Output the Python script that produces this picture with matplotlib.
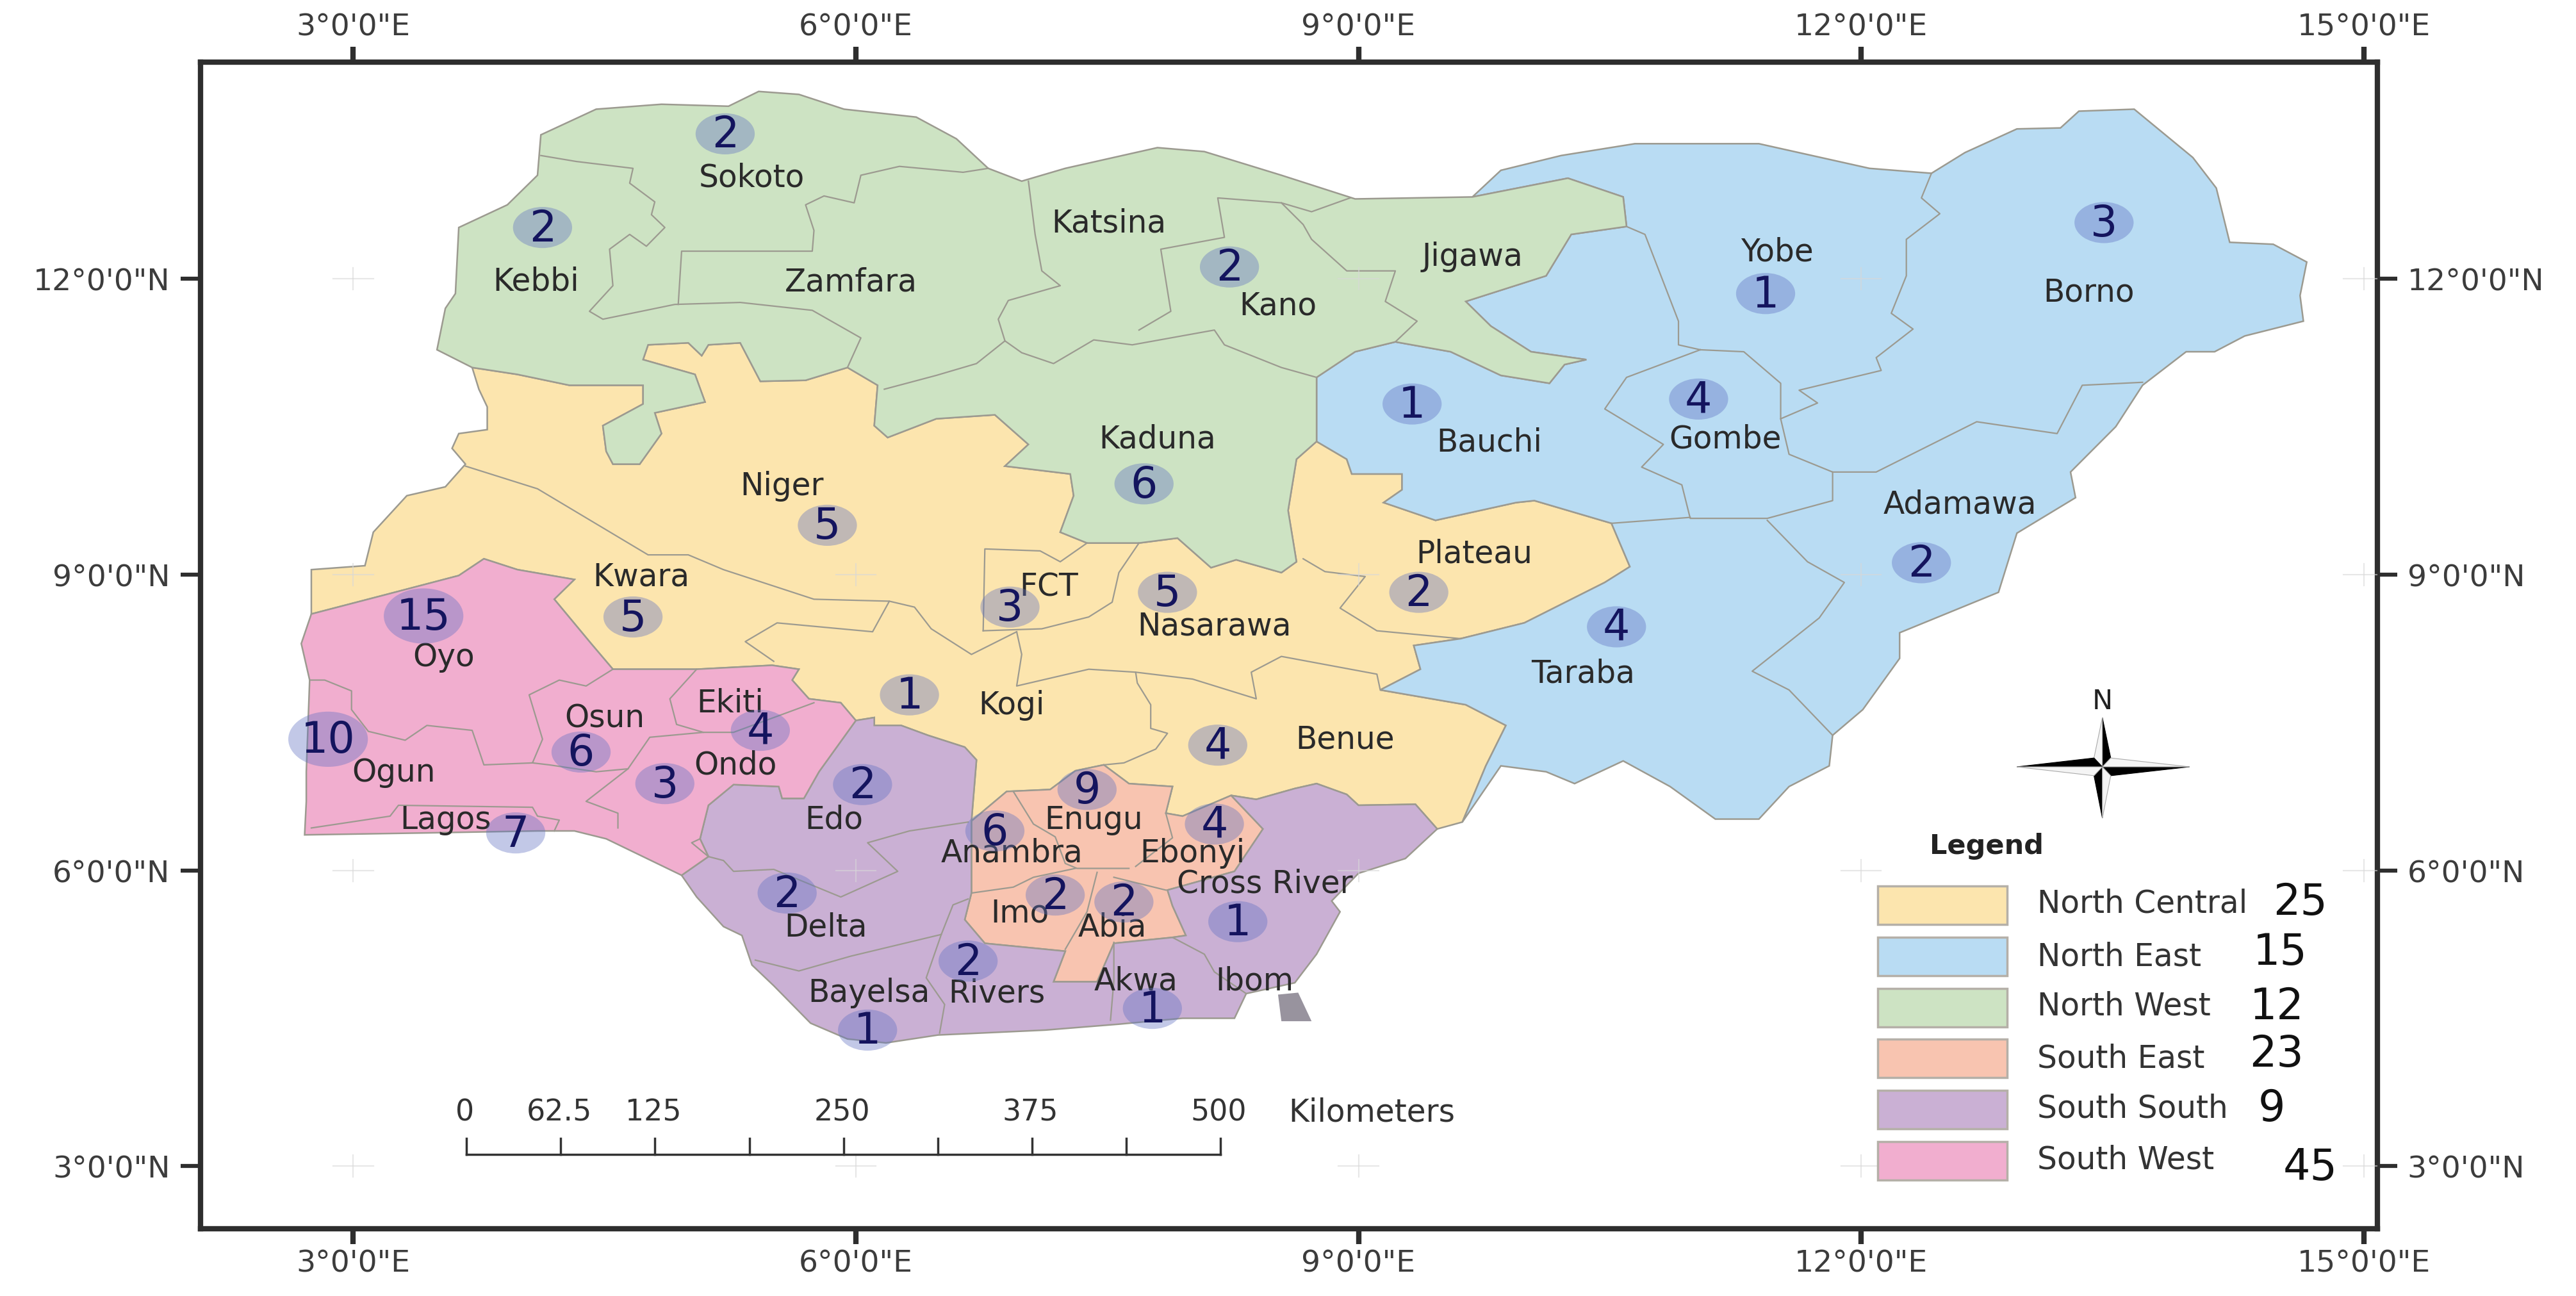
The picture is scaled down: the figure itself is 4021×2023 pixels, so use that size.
import matplotlib
matplotlib.use("Agg")
import matplotlib.pyplot as plt
from matplotlib.patches import Ellipse, Polygon, Rectangle

# Zone borders, (lon, lat) degrees
nw_outer = [(3.71, 11.10), (3.50, 11.28), (3.55, 11.70), (3.61, 11.85), (3.63, 12.52), (3.92, 12.75),
            (4.10, 13.05), (4.12, 13.46), (4.45, 13.72), (4.84, 13.77), (5.24, 13.75), (5.42, 13.90),
            (5.66, 13.87), (5.93, 13.72), (6.36, 13.64), (6.60, 13.42), (6.79, 13.12), (6.99, 12.99),
            (7.25, 13.12), (7.80, 13.33), (8.08, 13.29), (8.54, 13.05), (8.98, 12.81), (9.68, 12.83)]
nw_ne = [(9.68, 12.83), (10.25, 13.02), (10.58, 12.83), (10.60, 12.53), (10.27, 12.45), (10.12, 12.03),
         (9.64, 11.77), (9.79, 11.52), (10.03, 11.26), (10.36, 11.18), (10.23, 11.13), (10.14, 10.94),
         (9.85, 11.02), (9.55, 11.26), (9.22, 11.36), (8.98, 11.26), (8.75, 11.00), (8.75, 10.68), (8.75, 10.35)]
ne_outer = [(9.68, 12.83), (9.85, 13.10), (10.21, 13.25), (10.65, 13.37), (11.39, 13.37), (12.05, 13.12),
            (12.42, 13.07), (12.62, 13.28), (12.93, 13.52), (13.19, 13.53), (13.30, 13.70), (13.63, 13.72),
            (13.98, 13.23), (14.12, 12.92), (14.20, 12.37), (14.46, 12.35), (14.66, 12.17), (14.62, 11.83),
            (14.64, 11.57), (14.29, 11.42), (14.11, 11.26), (13.94, 11.26), (13.68, 10.92), (13.52, 10.50),
            (13.25, 10.04), (13.28, 9.78), (12.93, 9.42), (12.82, 8.82), (12.23, 8.41), (12.23, 8.15),
            (12.01, 7.63), (11.83, 7.37), (11.81, 7.06), (11.57, 6.85), (11.39, 6.52), (11.13, 6.52),
            (10.86, 6.85), (10.58, 7.11), (10.29, 6.88), (10.12, 7.00), (9.85, 7.06), (9.62, 6.49)]
nc_ne = [(8.75, 10.35), (8.93, 10.17), (8.96, 10.02), (9.26, 10.02), (9.26, 9.86), (9.15, 9.73), (9.46, 9.55),
         (9.94, 9.73), (10.05, 9.75), (10.51, 9.52), (10.62, 9.08), (10.47, 8.92), (9.99, 8.51), (9.61, 8.35),
         (9.33, 8.28), (9.37, 8.04), (9.13, 7.83), (9.64, 7.68), (9.88, 7.47), (9.76, 7.06), (9.62, 6.49)]
nw_nc = [(3.71, 11.10), (3.98, 11.03), (4.29, 10.92), (4.73, 10.92), (4.73, 10.73), (4.49, 10.51), (4.51, 10.25),
         (4.55, 10.12), (4.71, 10.12), (4.84, 10.43), (4.80, 10.64), (5.10, 10.75), (5.04, 11.03), (4.73, 11.18),
         (4.76, 11.33), (5.00, 11.35), (5.08, 11.22), (5.12, 11.33), (5.31, 11.35), (5.43, 10.96), (5.70, 10.97),
         (5.95, 11.10), (6.13, 10.92), (6.11, 10.51), (6.19, 10.39), (6.48, 10.58), (6.83, 10.62), (7.03, 10.32),
         (6.89, 10.10), (7.28, 10.02), (7.30, 9.80), (7.22, 9.43), (7.38, 9.32), (7.69, 9.32), (7.92, 9.37),
         (8.12, 9.07), (8.27, 9.15), (8.54, 9.02), (8.63, 9.13), (8.58, 9.65), (8.63, 10.17), (8.75, 10.35)]
nc_west = [(2.75, 8.60), (2.75, 9.05), (3.07, 9.09), (3.12, 9.43), (3.32, 9.80), (3.55, 9.89), (3.67, 10.12),
           (3.59, 10.28), (3.63, 10.43), (3.80, 10.47), (3.80, 10.70), (3.75, 10.88), (3.71, 11.10)]
sw_nc = [(2.75, 8.60), (3.18, 8.79), (3.63, 8.99), (3.78, 9.16), (3.98, 9.05), (4.32, 8.95), (4.20, 8.75),
         (4.42, 8.30), (4.55, 8.04), (5.05, 8.04), (5.50, 8.08), (5.66, 8.04), (5.62, 7.93), (5.72, 7.74),
         (5.91, 7.70), (6.00, 7.52)]
ss_nc = [(6.00, 7.52), (6.11, 7.55), (6.11, 7.47), (6.27, 7.47), (6.43, 7.37), (6.65, 7.25), (6.72, 7.12), (6.69, 6.50)]
se_nc = [(6.69, 6.50), (6.90, 6.80), (7.16, 6.82), (7.31, 7.01), (7.48, 7.07), (7.63, 6.88), (7.89, 6.85),
         (7.85, 6.58), (7.95, 6.55), (8.24, 6.76)]
ss_nc_east = [(8.24, 6.76), (8.39, 6.72), (8.62, 6.83), (8.75, 6.88), (8.93, 6.77), (9.00, 6.66), (9.34, 6.67), (9.47, 6.42)]
coast_east = [(9.47, 6.42), (9.28, 6.12), (9.00, 5.97), (8.84, 5.69), (8.89, 5.58), (8.75, 5.15), (8.62, 4.86),
              (8.33, 4.75), (8.26, 4.50), (7.95, 4.50), (7.57, 4.44), (7.13, 4.38), (6.49, 4.33), (6.18, 4.25),
              (5.95, 4.29), (5.73, 4.45), (5.51, 4.83), (5.38, 5.04), (5.32, 5.34), (5.21, 5.43), (5.05, 5.73), (4.96, 5.95)]
coast_west = [(4.96, 5.95), (4.51, 6.32), (4.32, 6.40), (4.10, 6.40), (3.44, 6.38), (2.71, 6.36), (2.72, 6.70),
              (2.72, 7.00), (2.74, 7.93), (2.69, 8.30), (2.75, 8.60)]
ss_sw = [(6.00, 7.52), (5.78, 7.00), (5.69, 6.73), (5.56, 6.73), (5.54, 6.85), (5.27, 6.87), (5.12, 6.66),
         (5.07, 6.32), (5.12, 6.14), (4.96, 5.95)]
se_ss = [(6.69, 6.50), (6.69, 5.77), (6.65, 5.50), (6.77, 5.26), (7.25, 5.18), (7.18, 4.87), (7.44, 4.87), (7.54, 5.26),
         (7.89, 5.32), (7.97, 5.34), (7.89, 5.64), (7.86, 5.80), (8.26, 5.99), (8.43, 6.42), (8.24, 6.76)]

# State borders inside the zones
state_borders = [
    [(4.12, 13.25), (4.33, 13.19), (4.67, 13.12), (4.65, 12.97), (4.80, 12.78), (4.78, 12.65), (4.86, 12.52),
     (4.75, 12.33), (4.65, 12.45), (4.53, 12.30), (4.55, 11.93), (4.41, 11.67), (4.49, 11.59), (4.92, 11.74),
     (5.31, 11.76), (5.74, 11.68), (6.03, 11.40), (5.95, 11.10)],
    [(4.94, 11.74), (4.96, 12.28), (5.74, 12.28), (5.75, 12.49), (5.70, 12.75), (5.81, 12.84), (5.99, 12.77),
     (6.03, 13.05), (6.26, 13.14), (6.64, 13.08), (6.79, 13.12)],
    [(7.03, 12.99), (7.07, 12.45), (7.11, 12.08), (7.22, 11.93), (6.91, 11.78), (6.85, 11.59), (6.89, 11.37),
     (6.72, 11.14), (6.48, 11.02), (6.17, 10.88)],
    [(6.89, 11.37), (6.99, 11.25), (7.18, 11.14), (7.42, 11.38), (7.65, 11.33), (8.14, 11.48), (8.20, 11.33),
     (8.54, 11.10), (8.75, 11.00)],
    [(7.69, 11.48), (7.88, 11.67), (7.82, 12.30), (8.20, 12.42), (8.16, 12.82), (8.54, 12.77), (8.72, 12.68), (8.95, 12.82)],
    [(8.54, 12.77), (8.67, 12.55), (8.72, 12.40), (8.93, 12.08), (9.22, 12.08), (9.16, 11.77), (9.35, 11.57), (9.22, 11.36)],
    [(12.42, 13.07), (12.36, 12.82), (12.47, 12.66), (12.27, 12.40), (12.27, 12.03), (12.18, 11.65), (12.31, 11.49),
     (12.09, 11.20), (12.12, 11.07), (11.63, 10.87), (11.74, 10.74), (11.52, 10.58)],
    [(10.60, 12.53), (10.71, 12.45), (10.91, 11.57), (10.91, 11.33), (11.04, 11.28)],
    [(11.04, 11.28), (11.30, 11.26), (11.52, 10.94), (11.52, 10.58), (11.57, 10.22), (11.83, 10.04), (11.83, 9.75),
     (11.44, 9.57), (10.98, 9.57), (10.93, 9.91), (10.69, 10.09), (10.82, 10.32), (10.47, 10.68), (10.60, 11.00), (11.04, 11.28)],
    [(11.83, 10.04), (12.09, 10.04), (12.69, 10.55), (13.17, 10.43), (13.32, 10.92), (13.68, 10.95)],
    [(10.51, 9.52), (10.98, 9.58)],
    [(11.44, 9.55), (11.68, 9.13), (11.90, 8.92), (11.75, 8.56), (11.35, 8.02), (11.57, 7.83), (11.83, 7.37)],
    [(3.67, 10.10), (4.10, 9.87), (4.76, 9.20), (5.00, 9.20), (5.21, 9.05), (5.75, 8.75), (6.20, 8.73), (6.10, 8.42),
     (5.53, 8.51), (5.34, 8.32), (5.51, 8.12)],
    [(6.20, 8.73), (6.35, 8.67), (6.45, 8.45), (6.69, 8.19), (6.96, 8.42)],
    [(6.76, 8.43), (6.77, 9.26), (7.10, 9.24), (7.22, 9.13), (7.38, 9.32)],
    [(7.69, 9.32), (7.57, 9.02), (7.53, 8.72), (7.39, 8.57), (7.11, 8.45), (6.76, 8.43)],
    [(6.96, 8.42), (6.99, 8.19), (6.96, 7.87), (7.39, 8.04), (7.67, 8.01), (7.68, 7.90), (7.76, 7.68), (7.76, 7.44),
     (7.86, 7.39), (7.79, 7.23), (7.60, 7.09), (7.48, 7.07)],
    [(7.67, 8.01), (8.01, 7.94), (8.39, 7.74), (8.36, 8.01), (8.54, 8.17), (9.11, 7.99), (9.13, 7.83)],
    [(8.67, 9.16), (8.80, 9.03), (9.04, 8.98), (8.89, 8.66), (9.11, 8.43), (9.61, 8.35)],
    [(2.74, 7.93), (2.83, 7.93), (2.99, 7.82), (2.99, 7.63), (3.09, 7.41), (3.31, 7.32), (3.44, 7.47), (3.71, 7.42),
     (3.78, 7.07), (4.07, 7.09), (4.13, 7.33), (4.05, 7.78), (4.23, 7.93), (4.39, 7.87), (4.55, 8.04)],
    [(5.05, 8.04), (4.89, 7.74), (4.93, 7.48), (5.09, 7.40), (5.27, 7.40), (5.75, 7.70)],
    [(5.09, 7.40), (4.77, 7.35), (4.64, 7.03), (4.39, 6.70), (4.58, 6.58), (4.58, 6.43)],
    [(4.07, 7.09), (4.17, 7.07), (4.45, 7.00), (4.64, 7.03)],
    [(2.75, 6.43), (3.22, 6.55), (3.27, 6.66), (4.07, 6.64), (4.10, 6.55), (4.23, 6.51), (4.20, 6.40)],
    [(5.07, 6.32), (5.02, 6.28), (5.12, 6.14), (5.21, 6.10), (5.27, 5.99), (5.51, 6.01), (5.91, 5.73), (6.25, 5.99),
     (6.07, 6.28), (6.32, 6.40), (6.67, 6.49)],
    [(5.40, 5.09), (5.66, 4.98), (5.97, 5.13), (6.51, 5.35), (6.58, 5.65), (6.67, 5.71)],
    [(6.51, 5.35), (6.42, 4.91), (6.53, 4.64), (6.50, 4.35)],
    [(7.54, 5.27), (7.54, 4.88), (7.52, 4.48)],
    [(7.89, 5.32), (8.08, 5.15), (8.14, 4.97), (8.33, 4.75)],
    [(6.94, 6.80), (7.06, 6.47), (7.19, 6.34), (7.25, 6.07), (7.32, 6.02), (7.63, 6.02)],
    [(7.85, 6.58), (7.89, 6.33), (7.67, 6.04)],
    [(6.69, 5.77), (6.94, 5.83), (7.06, 5.93), (7.31, 6.02)],
    [(7.44, 5.98), (7.38, 5.58), (7.25, 5.20)],
    [(7.54, 5.93), (7.85, 5.80)],
]
delta_patch = [(8.52, 4.74), (8.64, 4.76), (8.72, 4.47), (8.54, 4.47)]

label_names = ["Sokoto", "Kebbi", "Zamfara", "Katsina", "Kano", "Jigawa", "Yobe", "Borno", "Bauchi", "Gombe",
               "Kaduna", "Niger", "Adamawa", "Plateau", "Kwara", "FCT", "Nasarawa", "Taraba", "Oyo", "Ekiti",
               "Osun", "Kogi", "Benue", "Ondo", "Ogun", "Enugu", "Lagos", "Edo", "Anambra", "Ebonyi",
               "Cross River", "Imo", "Abia", "Delta", "Bayelsa", "Rivers", "Akwa", "Ibom"]
label_lons = [5.38, 4.09, 5.97, 7.51, 8.52, 9.68, 11.50, 13.36, 9.78, 11.19,
              7.80, 5.56, 12.59, 9.69, 4.72, 7.15, 8.14, 10.34, 3.54, 5.25,
              4.50, 6.93, 8.92, 5.28, 3.24, 7.42, 3.55, 5.87, 6.93, 8.01,
              8.44, 6.98, 7.53, 5.82, 6.08, 6.84, 7.67, 8.38]
label_lats = [13.03, 11.98, 11.97, 12.57, 11.73, 12.23, 12.28, 11.87, 10.35, 10.38,
              10.38, 9.90, 9.72, 9.22, 8.98, 8.88, 8.48, 8.00, 8.17, 7.70,
              7.55, 7.68, 7.33, 7.07, 7.00, 6.52, 6.52, 6.52, 6.18, 6.18,
              5.87, 5.57, 5.43, 5.43, 4.76, 4.76, 4.88, 4.88]

# Count per state
count_lons = [5.22, 4.13, 8.23, 13.45, 11.43, 9.32, 11.03, 7.72, 5.83, 12.36, 9.36, 7.86, 6.92, 4.67, 3.42, 10.54, 6.32,
              5.43, 8.16, 2.85, 4.36, 4.86, 7.38, 6.04, 6.83, 3.97, 8.14, 5.59, 7.19, 7.60, 8.28, 6.67, 7.77, 6.07]
count_lats = [13.47, 12.52, 12.12, 12.57, 11.85, 10.73, 10.78, 9.92, 9.50, 9.12, 8.82, 8.82, 8.67, 8.57, 8.58, 8.47, 7.78,
              7.42, 7.27, 7.33, 7.20, 6.88, 6.82, 6.87, 6.40, 6.38, 6.47, 5.77, 5.75, 5.68, 5.48, 5.08, 4.60, 4.38]
count_values = [2, 2, 2, 3, 1, 1, 4, 6, 5, 2, 2, 5, 3, 5, 15, 4, 1,
                4, 4, 10, 6, 3, 9, 2, 6, 7, 4, 2, 2, 2, 1, 2, 1, 1]

zones = ["North Central", "North East", "North West", "South East", "South South", "South West"]
zone_totals = ["25", "15", "12", "23", "9", "45"]
zone_colors = ["#FCE5AE", "#B9DCF3", "#CDE3C3", "#F8C4B0", "#CAB0D4", "#F1AECF"]
total_lons = [14.62, 14.50, 14.48, 14.48, 14.45, 14.68]

scale_km = [0, 62.5, 125, 187.5, 250, 312.5, 375, 437.5, 500]
scale_labels = [0, 62.5, 125, None, 250, None, 375, None, 500]

lon_ticks = [3, 6, 9, 12, 15]
lat_ticks = [3, 6, 9, 12]

plt.rcParams["font.family"] = "DejaVu Sans"

fig = plt.figure(figsize=(40.21, 20.24), dpi=100)
ax = fig.add_axes([0.0778, 0.0520, 0.8450, 0.8998])
ax.set_xlim(2.088, 15.08)
ax.set_ylim(2.367, 14.2)


def ring(*parts):
    pts = []
    for part in parts:
        pts += part
    return pts


zone_rings = [
    ring(nc_west, nw_nc, nc_ne, [(9.47, 6.42)], ss_nc_east[::-1], se_nc[::-1], ss_nc[::-1], sw_nc[::-1]),
    ring(ne_outer, nc_ne[::-1], nw_ne[::-1]),
    ring(nw_outer, nw_ne, nw_nc[::-1]),
    ring(se_nc, se_ss[::-1]),
    ring(ss_nc, se_ss, ss_nc_east, coast_east, ss_sw[::-1]),
    ring(sw_nc, ss_sw, coast_west),
]
for pts, col in zip(zone_rings, zone_colors):
    ax.add_patch(Polygon(pts, closed=True, facecolor=col, edgecolor="#9c9a90", linewidth=1.8, zorder=2))

ax.add_patch(Polygon(delta_patch, closed=True, facecolor="#98939e", edgecolor="none", zorder=2))

for line in state_borders:
    ax.plot([p[0] for p in line], [p[1] for p in line], color="#9c9a90", lw=1.6, zorder=3)

# faint graticule crosses
for lon in lon_ticks:
    for lat in lat_ticks:
        ax.plot([lon - 0.12, lon + 0.12], [lat, lat], color="#d8d8d8", lw=1.5, alpha=0.6, zorder=4)
        ax.plot([lon, lon], [lat - 0.11, lat + 0.11], color="#d8d8d8", lw=1.5, alpha=0.6, zorder=4)

for name, lon, lat in zip(label_names, label_lons, label_lats):
    ax.text(lon, lat, name, fontsize=35, color="#2a2a2a", ha="center", va="center", zorder=5)

for lon, lat, val in zip(count_lons, count_lats, count_values):
    w, h = (0.475, 0.56) if val >= 10 else (0.353, 0.417)
    ax.add_patch(Ellipse((lon, lat), w, h, facecolor="#5f70c2", edgecolor="none", alpha=0.38, zorder=6))
    ax.text(lon, lat - 0.01, str(val), fontsize=48, color="#14145e",
            ha="center", va="center", zorder=7)

# legend, in map degrees so it stays with the frame
ax.text(12.75, 6.25, "Legend", fontsize=31, fontweight="bold", color="#222222", ha="center", va="center", zorder=5)
swatch_tops = [5.84, 5.32, 4.80, 4.29, 3.77, 3.25]
text_lats = [5.67, 5.13, 4.63, 4.10, 3.59, 3.07]
num_lats = [5.68, 5.17, 4.62, 4.14, 3.59, 2.99]
for i, zone in enumerate(zones):
    ax.add_patch(Rectangle((12.10, swatch_tops[i] - 0.39), 0.77, 0.39, facecolor=zone_colors[i],
                           edgecolor="#b5b0a8", linewidth=2.5, zorder=5))
    ax.text(13.05, text_lats[i], zone, fontsize=35, color="#333333", ha="left", va="center", zorder=5)
    ax.text(total_lons[i], num_lats[i], zone_totals[i], fontsize=48, color="#111111",
            ha="center", va="center", zorder=5)

# north arrow
c_lon, c_lat = 13.44, 7.05
tips = [(0, 0.50), (0.52, 0), (0, -0.52), (-0.51, 0)]
sides = [(0.05, 0.09), (0.05, -0.09), (-0.05, -0.09), (-0.05, 0.09)]
for i, tip in enumerate(tips):
    t = (c_lon + tip[0], c_lat + tip[1])
    s1 = (c_lon + sides[i][0], c_lat + sides[i][1])
    s0 = (c_lon + sides[i - 1][0], c_lat + sides[i - 1][1])
    ax.add_patch(Polygon([(c_lon, c_lat), t, s1], closed=True, facecolor="#000000", edgecolor="#000000", lw=0.8, zorder=5))
    ax.add_patch(Polygon([(c_lon, c_lat), t, s0], closed=True, facecolor="#f4f4f4", edgecolor="#aaaaaa", lw=0.8, zorder=5))
ax.text(13.44, 7.72, "N", fontsize=31, color="#222222", ha="center", va="center", zorder=5)

# scale bar
bar_lon0 = 3.676
km_per_deg = 111.1
bar_lat = 3.117
ax.plot([bar_lon0, bar_lon0 + scale_km[-1] / km_per_deg], [bar_lat, bar_lat], color="#333333", lw=2.5, zorder=5)
for km, lab in zip(scale_km, scale_labels):
    x = bar_lon0 + km / km_per_deg
    ax.plot([x, x], [bar_lat, 3.283], color="#333333", lw=2.5, zorder=5)
    if lab is not None:
        ax.text(x - 0.01, 3.55, str(lab), fontsize=33, color="#333333", ha="center", va="center", zorder=5)
ax.text(9.08, 3.55, "Kilometers", fontsize=35, color="#333333", ha="center", va="center", zorder=5)

# frame and ticks
for spine in ax.spines.values():
    spine.set_linewidth(6)
    spine.set_color("#2e2e2e")
ax.set_xticks(lon_ticks)
ax.set_yticks(lat_ticks)
ax.set_xticklabels([f"{d}°0'0\"E" for d in lon_ticks])
ax.set_yticklabels([f"{d}°0'0\"N" for d in lat_ticks])
ax.tick_params(axis="x", top=True, labeltop=True, length=17, width=6, color="#2e2e2e",
               labelsize=34, labelcolor="#3c3c3c", pad=6)
ax.tick_params(axis="y", right=True, labelright=True, length=22, width=4.5, color="#2e2e2e",
               labelsize=34, labelcolor="#3c3c3c", pad=12)

fig.savefig("out.png", dpi=100, facecolor="white")
